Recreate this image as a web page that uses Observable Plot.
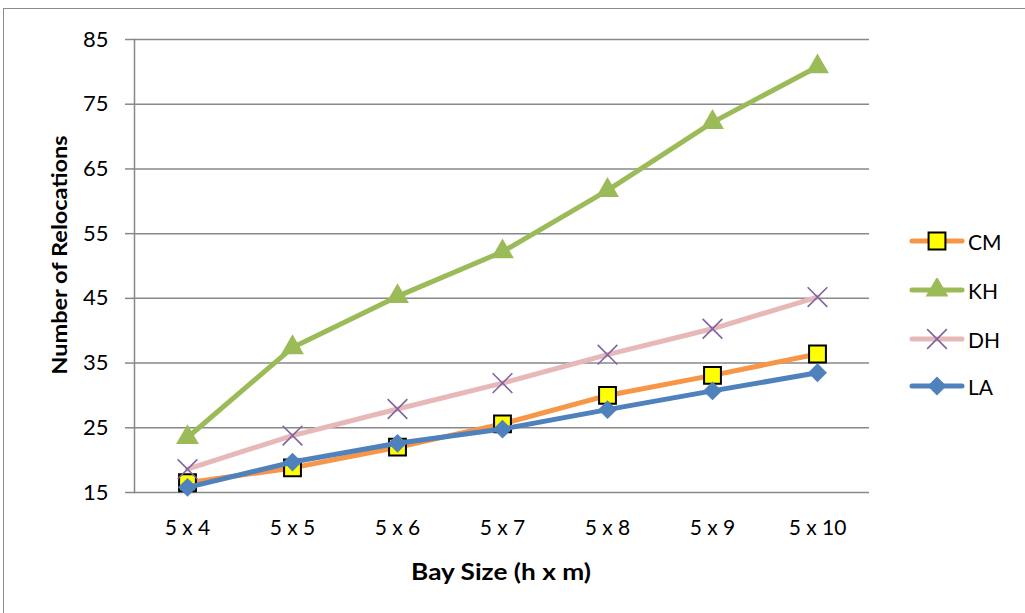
<!DOCTYPE html>
<html>
<head>
<meta charset="utf-8">
<script src="https://cdn.jsdelivr.net/npm/d3@7"></script>
<script src="https://cdn.jsdelivr.net/npm/@observablehq/plot@0.6"></script>
<style>
  html, body { margin: 0; padding: 0; background: #fff; }
  #wrap { position: relative; width: 1025px; height: 613px; overflow: hidden; font-family: Lato, "Liberation Sans", sans-serif; }
  #border { position: absolute; left: 3px; top: 8px; width: 1100px; height: 700px; border: 1px solid #8c8c8c; box-sizing: border-box; }
  #chart { position: absolute; left: 0; top: 0; }
  #ytitle { position: absolute; left: 58px; top: 255px; transform: translate(-50%, -50%) rotate(-90deg) scaleX(1.12); font-weight: bold; font-size: 21px; white-space: nowrap; color: #000; }
  #xtitle { position: absolute; left: 501px; top: 571px; transform: translate(-50%, -50%) scaleX(1.14); font-weight: bold; font-size: 23px; white-space: nowrap; color: #000; }
  .leg { position: absolute; left: 908px; height: 24px; display: flex; align-items: center; font-size: 21px; color: #000; }
  .leg svg { display: block; margin-right: 2px; }
</style>
</head>
<body>
<div id="wrap">
  <div id="border"></div>
  <div id="chart"></div>
  <div id="ytitle">Number of Relocations</div>
  <div id="xtitle">Bay Size (h x m)</div>
  <div id="legend"></div>
</div>
<script>
const categories = ["5 x 4", "5 x 5", "5 x 6", "5 x 7", "5 x 8", "5 x 9", "5 x 10"];
const seriesNames = ["CM", "KH", "DH", "LA"];
const cm = [16.5, 18.8, 22.0, 25.6, 30.0, 33.1, 36.4];
const kh = [23.5, 37.4, 45.3, 52.2, 61.7, 72.2, 80.8];
const dh = [18.6, 23.8, 27.9, 31.9, 36.3, 40.3, 45.2];
const la = [15.8, 19.7, 22.6, 24.8, 27.8, 30.7, 33.5];
const yTicks = [15, 25, 35, 45, 55, 65, 75, 85];

const seriesValues = { CM: cm, KH: kh, DH: dh, LA: la };
const styles = {
  CM: { line: "#F79646", symbol: "square", fill: "#FFFF00", stroke: "#000", sw: 2, r: 9.5 },
  KH: { line: "#9BBB59", symbol: "triangle", fill: "#9BBB59", stroke: "none", sw: 0, r: 8.5 },
  DH: { line: "#E6B9B8", symbol: "times", fill: "none", stroke: "#8064A2", sw: 1.6, r: 9 },
  LA: { line: "#4F81BD", symbol: "diamond2", fill: "#4F81BD", stroke: "none", sw: 0, r: 8.5 }
};

const marks = [
  Plot.gridY(yTicks, { stroke: "#888888", strokeOpacity: 1, strokeWidth: 1.5 }),
  Plot.axisY(yTicks, { tickSize: 9, tickPadding: 17, stroke: "#888888", strokeWidth: 1.5, fontSize: 22, label: null, tickFormat: d => d }),
  Plot.axisX({ tickSize: 0, tickPadding: 28, fontSize: 21, label: null }),
  Plot.frame({ anchor: "left", stroke: "#888888", strokeWidth: 1.5 })
];

for (const name of seriesNames) {
  const data = categories.map((c, i) => ({ cat: c, v: seriesValues[name][i] }));
  const s = styles[name];
  marks.push(Plot.line(data, { x: "cat", y: "v", stroke: s.line, strokeWidth: 5, strokeLinejoin: "round", strokeLinecap: "round" }));
  marks.push(Plot.dot(data, { x: "cat", y: "v", symbol: () => s.symbol, r: s.r, fill: s.fill, stroke: s.stroke, strokeWidth: s.sw }));
}

const chart = Plot.plot({
  width: 1025,
  height: 613,
  marginLeft: 134,
  marginRight: 156,
  marginTop: 39,
  marginBottom: 121,
  style: { fontFamily: "Lato, 'Liberation Sans', sans-serif", color: "#000", background: "transparent", overflow: "visible" },
  x: { type: "point", domain: categories, padding: 0.5 },
  y: { domain: [15, 85] },
  symbol: { domain: ["square", "triangle", "times", "diamond2"], range: ["square", "triangle", "times", "diamond2"] },
  marks
});
document.getElementById("chart").appendChild(chart);

// Legend
const legendY = { CM: 241, KH: 290, DH: 339, LA: 386 };
const symMap = { square: d3.symbolSquare, triangle: d3.symbolTriangle, times: d3.symbolTimes, diamond2: d3.symbolDiamond2 };
const legend = document.getElementById("legend");
for (const name of seriesNames) {
  const s = styles[name];
  const item = document.createElement("div");
  item.className = "leg";
  item.style.top = (legendY[name] - 12) + "px";
  const svg = d3.create("svg").attr("width", 58).attr("height", 24);
  svg.append("line").attr("x1", 4).attr("x2", 54).attr("y1", 12).attr("y2", 12)
    .attr("stroke", s.line).attr("stroke-width", 5).attr("stroke-linecap", "round");
  svg.append("path").attr("transform", "translate(29,12)")
    .attr("d", d3.symbol(symMap[s.symbol], s.r * s.r * Math.PI)())
    .attr("fill", s.fill).attr("stroke", s.stroke).attr("stroke-width", s.sw);
  item.appendChild(svg.node());
  const lbl = document.createElement("span");
  lbl.textContent = name;
  item.appendChild(lbl);
  legend.appendChild(item);
}
</script>
</body>
</html>
